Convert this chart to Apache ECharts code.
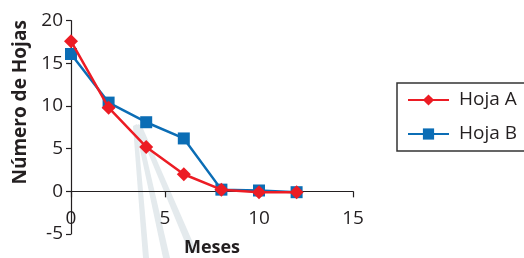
<!DOCTYPE html>
<html><head><meta charset="utf-8">
<script src="https://cdn.jsdelivr.net/npm/echarts@6/dist/echarts.min.js"></script>
<style>html,body{margin:0;padding:0;background:#fff}#c{width:524px;height:258px}</style>
</head><body><div id="c"></div>
<script>
const meses = [0, 2, 4, 6, 8, 10, 12];
const hojaA = [17.6, 9.8, 5.2, 2.0, 0.2, -0.1, -0.1];
const hojaB = [16.1, 10.4, 8.1, 6.2, 0.2, 0.1, -0.1];
const seriesNames = ['Hoja A', 'Hoja B'];
const xTitle = 'Meses';
const yTitle = 'Número de Hojas';

const font = 'Open Sans';
const chart = echarts.init(document.getElementById('c'), null, {renderer: 'canvas'});
chart.setOption({
  animation: false,
  backgroundColor: '#fff',
  grid: {left: 71, right: 171, top: 20.7, bottom: 24, containLabel: false, outerBoundsMode: 'none'},
  graphic: [
    {type: 'polygon', z: 0, shape: {points: [[133,126],[137,124],[149,258],[143,258]]}, style: {fill: '#e4eaed'}},
    {type: 'polygon', z: 0, shape: {points: [[135,126],[139,124],[170,258],[163,258]]}, style: {fill: '#e4eaed'}},
    {type: 'polygon', z: 0, shape: {points: [[137,126],[141,124],[197,252],[189,252]]}, style: {fill: '#e4eaed'}}
  ],
  xAxis: {
    type: 'value', min: 0, max: 15, interval: 5,
    name: xTitle, nameLocation: 'middle', nameGap: 5,
    nameTextStyle: {fontFamily: font, fontWeight: 'bold', fontSize: 18, color: '#231f20'},
    axisLine: {onZero: true, lineStyle: {color: '#231f20', width: 1.2}},
    axisTick: {show: true, inside: false, length: 6, lineStyle: {color: '#231f20', width: 1.2}},
    axisLabel: {margin: -25, fontFamily: font, fontSize: 19, color: '#231f20'},
    splitLine: {show: false}
  },
  yAxis: {
    type: 'value', min: -5, max: 20, interval: 5,
    name: yTitle, nameLocation: 'middle', nameGap: 40, nameRotate: 90,
    nameTextStyle: {fontFamily: font, fontWeight: 'bold', fontSize: 19, color: '#231f20', padding: [0, 0, 0, 50]},
    axisLine: {show: true, lineStyle: {color: '#231f20', width: 1.2}},
    axisTick: {show: true, inside: false, length: 5, lineStyle: {color: '#231f20', width: 1.2}},
    axisLabel: {margin: 8, fontFamily: font, fontSize: 19, color: '#231f20'},
    splitLine: {show: false}
  },
  legend: {
    orient: 'vertical', left: 397, top: 83,
    padding: [7, 40, 7, 10], itemGap: 14,
    itemWidth: 41, itemHeight: 14,
    borderColor: '#333', borderWidth: 1.5, borderRadius: 0,
    textStyle: {fontFamily: font, fontSize: 19, color: '#231f20', lineHeight: 20, padding: [0, 0, 0, 5]},
    data: seriesNames
  },
  series: [
    {
      name: seriesNames[0], type: 'line', z: 4,
      data: meses.map((m, i) => [m, hojaA[i]]),
      symbol: 'diamond', symbolSize: 14,
      lineStyle: {color: '#ec1c24', width: 2.5},
      itemStyle: {color: '#ec1c24'}
    },
    {
      name: seriesNames[1], type: 'line', z: 3,
      data: meses.map((m, i) => [m, hojaB[i]]),
      symbol: 'rect', symbolSize: 12,
      lineStyle: {color: '#0b6db5', width: 2.5},
      itemStyle: {color: '#0b6db5'}
    }
  ]
});
</script></body></html>
